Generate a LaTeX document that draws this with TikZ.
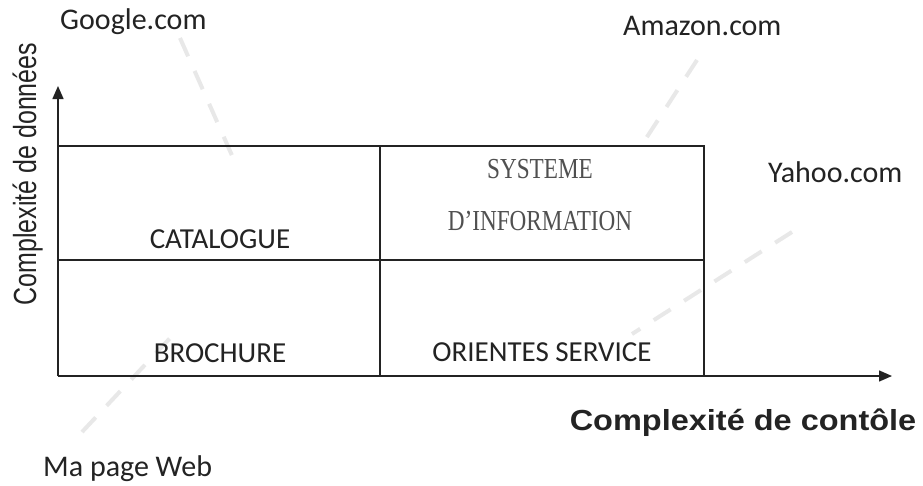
\documentclass[tikz,border=0pt]{standalone}
\usepackage{fontspec}
\setmainfont{Carlito}
\newfontfamily\arialfont{Liberation Sans}
\newfontfamily\timesfont{Liberation Serif}
\usetikzlibrary{arrows.meta}
\definecolor{inkdark}{RGB}{35,35,35}
\definecolor{inkgrey}{RGB}{80,80,80}
\definecolor{tracegrey}{RGB}{232,232,232}

\begin{document}
\begin{tikzpicture}[x=1pt, y=-1pt,
    axis/.style={draw=inkdark, line width=1.4pt, -{Triangle[width=11pt,length=13pt]}},
    gridline/.style={draw=inkdark, line width=1.3pt},
    site/.style={anchor=base west, inner sep=0pt, text=inkdark, font=\fontsize{30}{36}\selectfont},
    quad/.style={anchor=base, inner sep=0pt, text=inkdark, font=\fontsize{29}{34}\selectfont},
    quadserif/.style={anchor=base, inner sep=0pt, text=inkgrey, font=\timesfont\fontsize{29}{34}\selectfont},
    trace/.style={draw=tracegrey, line width=4pt, dash pattern=on 20pt off 16pt}]
    \fill[white] (0,0) rectangle (923,485);
    \useasboundingbox (0,0) rectangle (923,485);

    % Faint traces
    \coordinate (gTail) at (180,38);   \coordinate (gHead) at (234,160);
    \coordinate (aTail) at (697,60);   \coordinate (aHead) at (645,140);
    \coordinate (yTail) at (792,232);  \coordinate (yHead) at (632,334);
    \coordinate (mTail) at (82,432);   \coordinate (mHead) at (172,336);
    \draw[trace] (gTail) -- (gHead);
    \draw[trace] (aTail) -- (aHead);
    \draw[trace] (yTail) -- (yHead);
    \draw[trace] (mTail) -- (mHead);

    % Axes
    \coordinate (origin) at (58,376);
    \coordinate (ytip) at (58,86);
    \coordinate (xtip) at (892,376);
    \draw[axis] (origin) -- (ytip);
    \draw[axis] (origin) -- (xtip);

    % Grid
    \draw[gridline] (58,146) -- (704,146) -- (704,376);
    \draw[gridline] (58,260) -- (704,260);
    \draw[gridline] (380,146) -- (380,376);

    % Quadrants
    \node[quad] (catalogue) at (220,248) {CATALOGUE};
    \node[quad] (brochure) at (220,362) {BROCHURE};
    \node[quad] (service) at (542,361) {ORIENTES SERVICE};
    \node[quadserif] (systeme) at (540,178) {\scalebox{0.8}[1]{SYSTEME}};
    \node[quadserif] (information) at (540,230) {\scalebox{0.8}[1]{D’INFORMATION}};

    % Sites
    \node[site] (google) at (60,29) {Google.com};
    \node[site] (amazon) at (623,35) {Amazon.com};
    \node[site] (yahoo) at (768,182) {Yahoo.com};
    \node[site] (mapage) at (43,476) {Ma page Web};

    % Axis labels
    \node[anchor=base, inner sep=0pt, text=inkdark, font=\arialfont\bfseries\fontsize{29}{34}\selectfont] (xlabel) at (743,430) {\scalebox{1.12}[1]{Complexité de contôle}};
    \node[rotate=90, anchor=base, inner sep=0pt, text=inkdark, font=\arialfont\fontsize{32}{38}\selectfont] (ylabel) at (36,174) {\scalebox{0.78}[1]{Complexité de données}};
\end{tikzpicture}
\end{document}
